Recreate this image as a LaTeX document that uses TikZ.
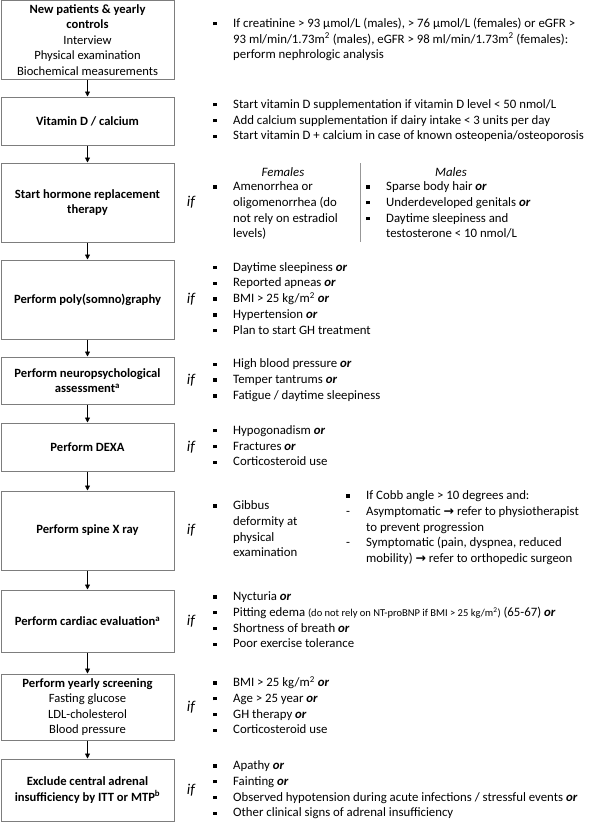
\documentclass[tikz,border=0pt]{standalone}
\usepackage{fontspec}
\setmainfont{Carlito}
\newfontfamily\symf{DejaVu Sans}
\usetikzlibrary{arrows.meta}
\definecolor{boxgray}{RGB}{125,125,125}
\newcommand\bul{\rule[1.9pt]{3.3pt}{3.3pt}}
\newcommand\orr{\textbf{\textit{or}}}
\newcommand\rarr{{\symf\bfseries\fontsize{12.5}{12}\selectfont →}}
\newcommand\sq{\textsuperscript{2}}
\newenvironment{blist}{\begin{tabular}{@{}p{20pt}@{}l@{}}}{\end{tabular}}
\tikzset{
 box/.style={draw=boxgray, line width=1pt, minimum width=173pt, inner sep=2pt, align=center, font=\fontsize{12.6}{15.5}\selectfont},
 lst/.style={anchor=west, inner sep=0pt, font=\fontsize{12.8}{15.8}\selectfont},
 hdr/.style={inner sep=0pt, font=\fontsize{12.8}{15.8}\selectfont\itshape},
 iff/.style={font=\fontsize{15}{16}\selectfont\itshape, inner sep=0pt},
 arr/.style={-{Triangle[length=5pt,width=5pt]}, line width=0.8pt},
}
\begin{document}
\begin{tikzpicture}[x=1pt,y=-1pt]
\useasboundingbox (0,0) rectangle (600,822);
% boxes
\node[box, minimum height=78.5pt] (b1) at (87.5,39.75) {\textbf{New patients \& yearly}\\\textbf{controls}\\Interview\\Physical examination\\Biochemical measurements};
\node[box, minimum height=48pt] (b2) at (87.5,121) {\textbf{Vitamin D / calcium}};
\node[box, minimum height=79pt] (b3) at (87.5,202.5) {\textbf{Start hormone replacement}\\\textbf{therapy}};
\node[box, minimum height=79pt] (b4) at (87.5,299.5) {\textbf{Perform poly(somno)graphy}};
\node[box, minimum height=47pt] (b5) at (87.5,380.5) {\textbf{Perform neuropsychological}\\\textbf{assessment\textsuperscript{a}}};
\node[box, minimum height=48pt] (b6) at (87.5,447) {\textbf{Perform DEXA}};
\node[box, minimum height=79pt] (b7) at (87.5,530.5) {\textbf{Perform spine X ray}};
\node[box, minimum height=62pt] (b8) at (87.5,621) {\textbf{Perform cardiac evaluation\textsuperscript{a}}};
\node[box, minimum height=66pt] (b9) at (87.5,707) {\textbf{Perform yearly screening}\\Fasting glucose\\LDL-cholesterol\\Blood pressure};
\node[box, minimum height=62pt] (b10) at (87.5,790) {\textbf{Exclude central adrenal}\\\textbf{insufficiency by ITT or MTP\textsuperscript{b}}};
% arrows
\draw[arr] (b1.south) -- (b2.north);
\draw[arr] (b2.south) -- (b3.north);
\draw[arr] (b3.south) -- (b4.north);
\draw[arr] (b4.south) -- (b5.north);
\draw[arr] (b5.south) -- (b6.north);
\draw[arr] (b6.south) -- (b7.north);
\draw[arr] (b7.south) -- (b8.north);
\draw[arr] (b8.south) -- (b9.north);
\draw[arr] (b9.south) -- (b10.north);
% if labels
\node[iff] (if3) at (191,202.5) {if};
\node[iff] (if4) at (191,299.5) {if};
\node[iff] (if5) at (191,380.5) {if};
\node[iff] (if6) at (191,447) {if};
\node[iff] (if7) at (191,530.5) {if};
\node[iff] (if8) at (191,621) {if};
\node[iff] (if9) at (191,707) {if};
\node[iff] (if10) at (191,790) {if};
% right column
\node[lst] (r1) at (213,40) {\begin{blist}
\bul & If creatinine > 93 μmol/L (males), > 76 μmol/L (females) or eGFR >\\
 & 93 ml/min/1.73m\sq{} (males), eGFR > 98 ml/min/1.73m\sq{} (females):\\
 & perform nephrologic analysis
\end{blist}};
\node[lst] (r2) at (213,121) {\begin{blist}
\bul & Start vitamin D supplementation if vitamin D level < 50 nmol/L\\
\bul & Add calcium supplementation if dairy intake < 3 units per day\\
\bul & Start vitamin D + calcium in case of known osteopenia/osteoporosis
\end{blist}};
\node[hdr] (fem) at (283,172) {Females};
\node[hdr] (mal) at (451,172) {Males};
\draw[boxgray!80, line width=0.8pt] (360,163) -- (360,242);
\node[lst] (r3f) at (213,211) {\begin{blist}
\bul & Amenorrhea or\\
 & oligomenorrhea (do\\
 & not rely on estradiol\\
 & levels)
\end{blist}};
\node[lst] (r3m) at (366,211) {\begin{blist}
\bul & Sparse body hair \orr\\
\bul & Underdeveloped genitals \orr\\
\bul & Daytime sleepiness and\\
 & testosterone < 10 nmol/L
\end{blist}};
\node[lst] (r4) at (213,299.5) {\begin{blist}
\bul & Daytime sleepiness \orr\\
\bul & Reported apneas \orr\\
\bul & BMI > 25 kg/m\sq{} \orr\\
\bul & Hypertension \orr\\
\bul & Plan to start GH treatment
\end{blist}};
\node[lst] (r5) at (213,380.5) {\begin{blist}
\bul & High blood pressure \orr\\
\bul & Temper tantrums \orr\\
\bul & Fatigue / daytime sleepiness
\end{blist}};
\node[lst] (r6) at (213,447) {\begin{blist}
\bul & Hypogonadism \orr\\
\bul & Fractures \orr\\
\bul & Corticosteroid use
\end{blist}};
\node[lst] (r7g) at (213,530) {\begin{blist}
\bul & Gibbus\\
 & deformity at\\
 & physical\\
 & examination
\end{blist}};
\node[lst] (r7c) at (346,528) {\begin{blist}
\bul & If Cobb angle > 10 degrees and:\\
- & Asymptomatic \rarr{} refer to physiotherapist\\
 & to prevent progression\\
- & Symptomatic (pain, dyspnea, reduced\\
 & mobility) \rarr{} refer to orthopedic surgeon
\end{blist}};
\node[lst] (r8) at (213,621) {\begin{blist}
\bul & Nycturia \orr\\
\bul & Pitting edema {\fontsize{10.5}{12}\selectfont (do not rely on NT-proBNP if BMI > 25 kg/m\sq)} (65-67) \orr\\
\bul & Shortness of breath \orr\\
\bul & Poor exercise tolerance
\end{blist}};
\node[lst] (r9) at (213,707) {\begin{blist}
\bul & BMI > 25 kg/m\sq{} \orr\\
\bul & Age > 25 year \orr\\
\bul & GH therapy \orr\\
\bul & Corticosteroid use
\end{blist}};
\node[lst] (r10) at (213,790) {\begin{blist}
\bul & Apathy \orr\\
\bul & Fainting \orr\\
\bul & Observed hypotension during acute infections / stressful events \orr\\
\bul & Other clinical signs of adrenal insufficiency
\end{blist}};
\end{tikzpicture}
\end{document}
